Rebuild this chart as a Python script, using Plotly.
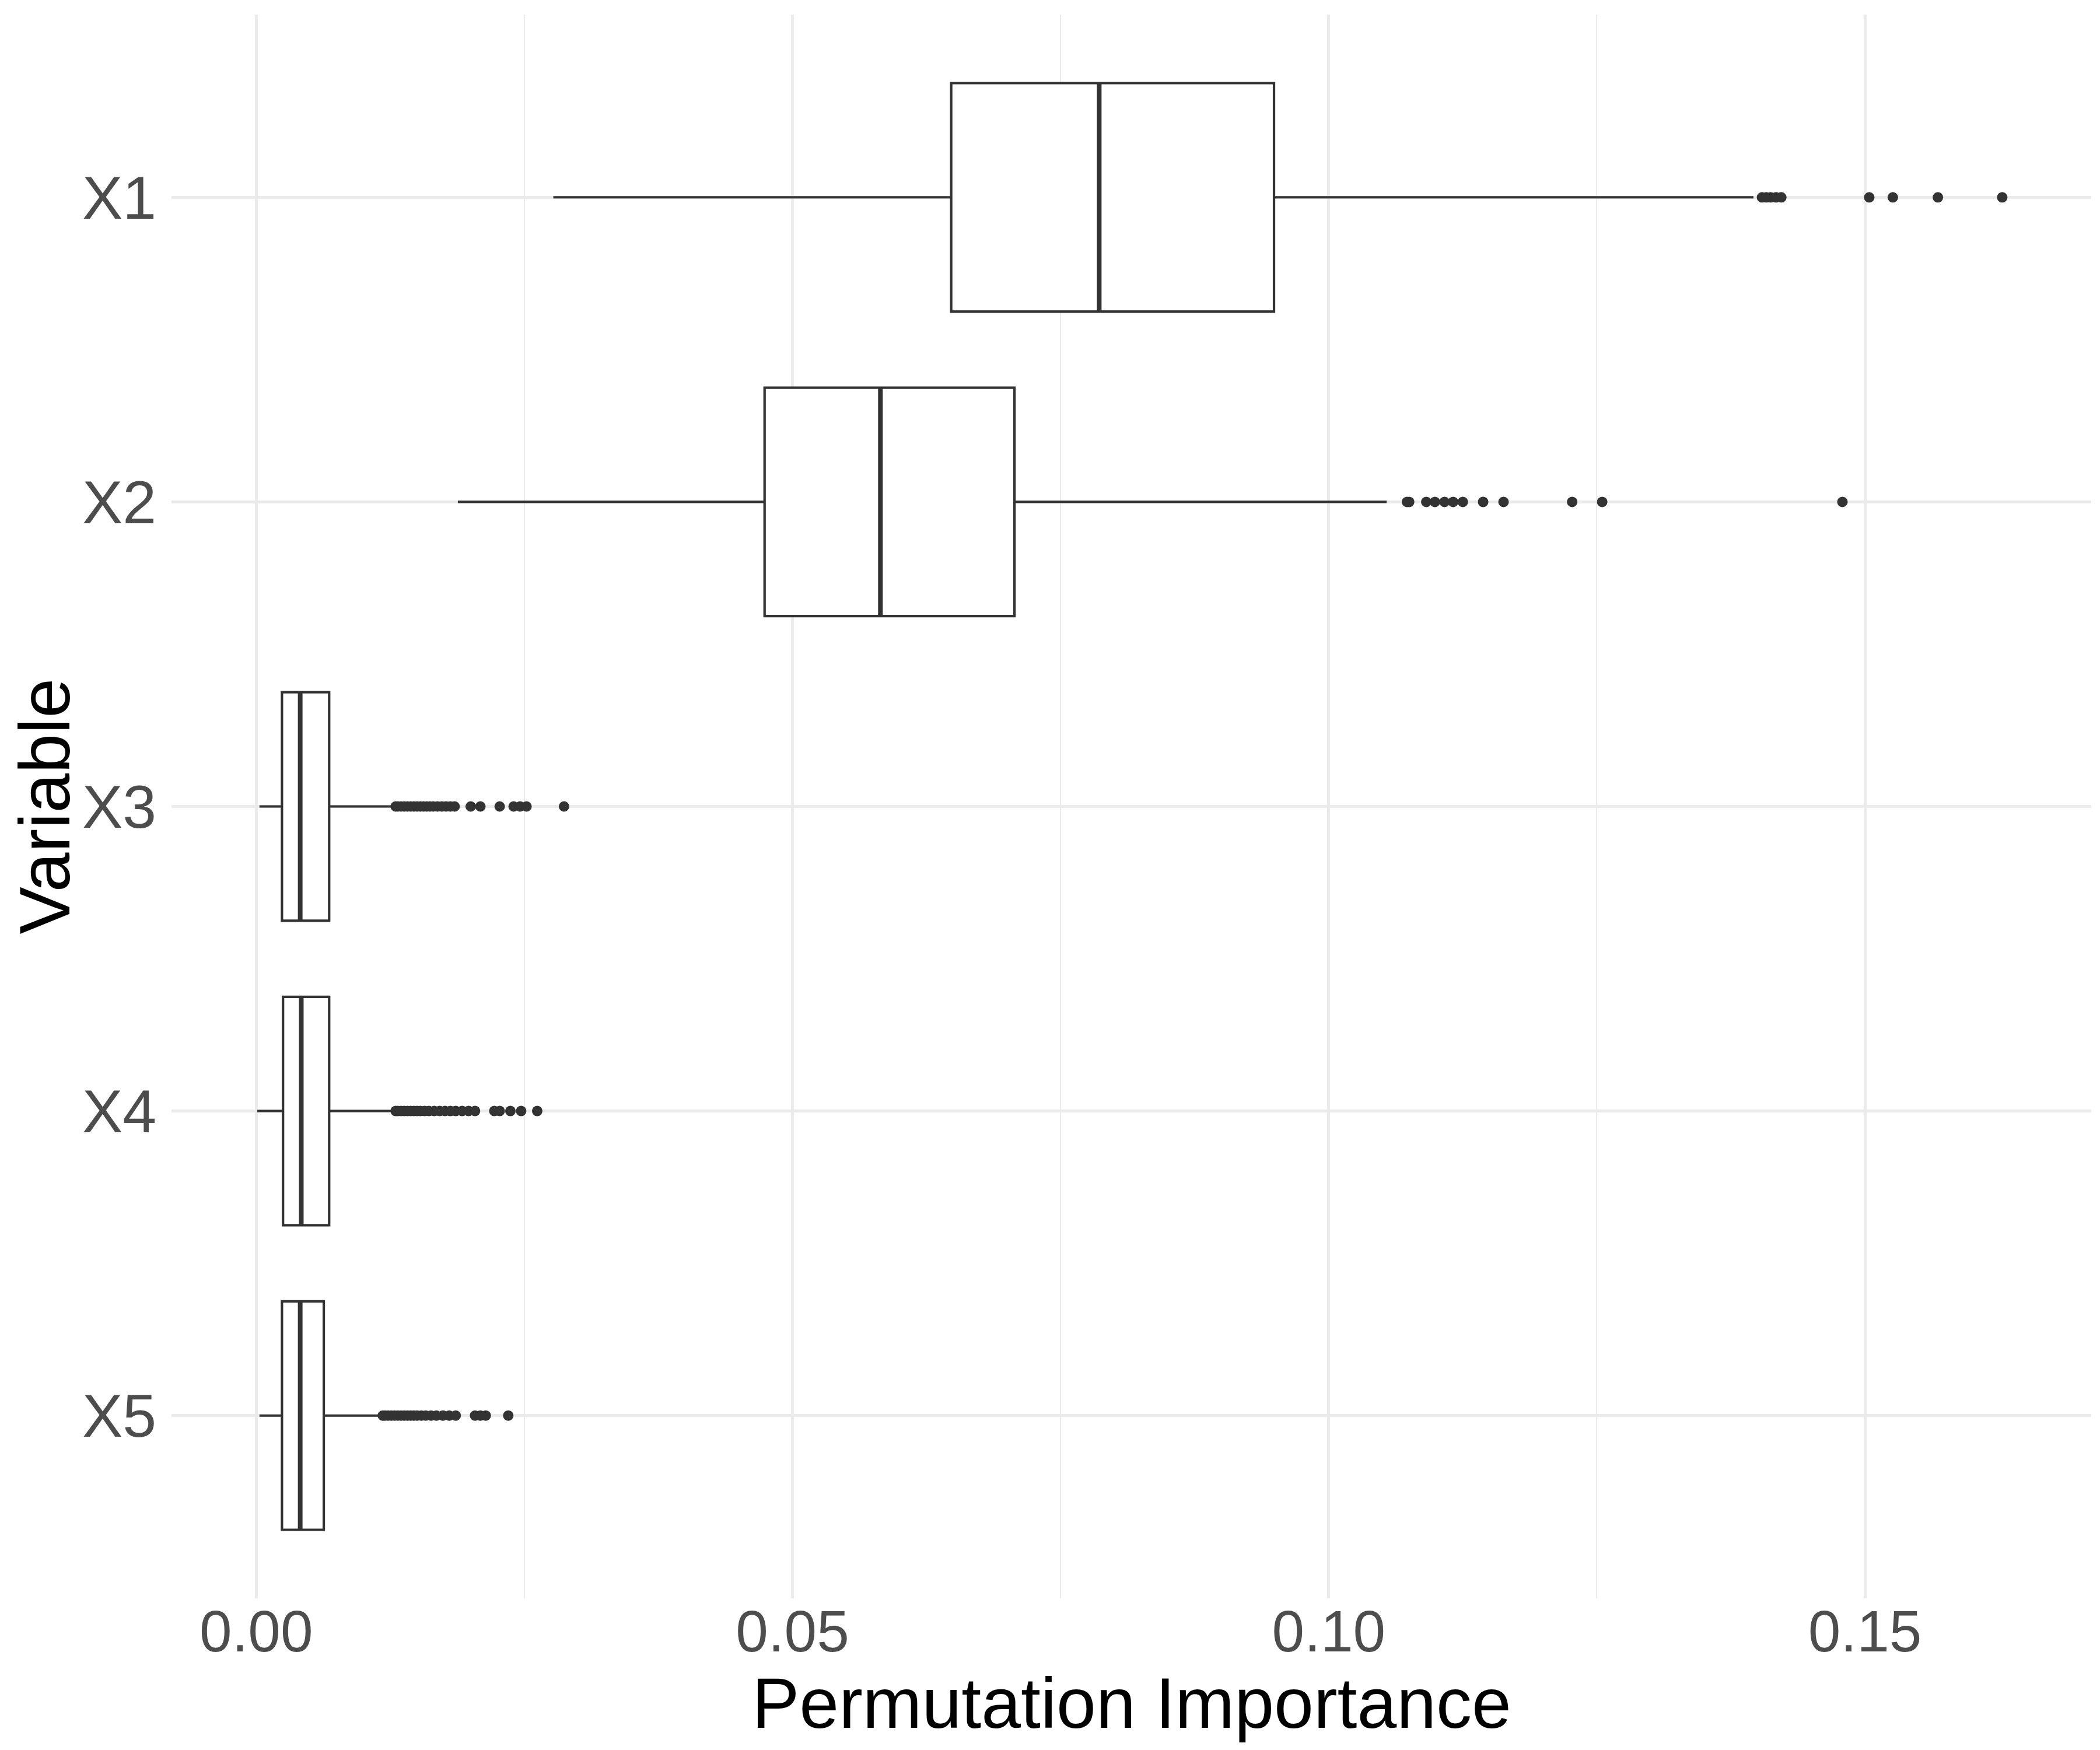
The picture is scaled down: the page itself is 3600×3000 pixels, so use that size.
import plotly.graph_objects as go

# variables, top to bottom
variables = ["X1", "X2", "X3", "X4", "X5"]

# box statistics
lower_whisker = [0.0277, 0.0188, 0.0003, 0.0001, 0.0003]
q1_vals = [0.0648, 0.0474, 0.0024, 0.0025, 0.0024]
medians = [0.0786, 0.0582, 0.0041, 0.0042, 0.0041]
q3_vals = [0.0949, 0.0707, 0.0068, 0.0068, 0.0063]
upper_whisker = [0.1396, 0.1054, 0.0128, 0.0128, 0.0115]

# outlying points per variable
outliers_x1 = [0.1404, 0.1408, 0.1412, 0.1417, 0.1422, 0.1504, 0.1526, 0.1568, 0.1628]
outliers_x2 = [0.1073, 0.1075, 0.1091, 0.1099, 0.1108, 0.1116, 0.1125, 0.1144,
               0.1163, 0.1227, 0.1255, 0.1479]
outliers_x3 = [0.0130, 0.0132, 0.0135, 0.0138, 0.0141, 0.0144, 0.0147, 0.0150,
               0.0153, 0.0156, 0.0159, 0.0162, 0.0165, 0.0169, 0.0173, 0.0177,
               0.0181, 0.0185, 0.0200, 0.0209, 0.0227, 0.0240, 0.0246, 0.0252, 0.0287]
outliers_x4 = [0.0130, 0.0132, 0.0135, 0.0138, 0.0141, 0.0144, 0.0147, 0.0150,
               0.0153, 0.0157, 0.0161, 0.0166, 0.0171, 0.0176, 0.0181, 0.0186,
               0.0192, 0.0198, 0.0204, 0.0222, 0.0227, 0.0237, 0.0247, 0.0262]
outliers_x5 = [0.0118, 0.0120, 0.0123, 0.0126, 0.0129, 0.0132, 0.0135, 0.0138,
               0.0141, 0.0144, 0.0147, 0.0150, 0.0154, 0.0158, 0.0163, 0.0168,
               0.0174, 0.0180, 0.0186, 0.0204, 0.0209, 0.0214, 0.0235]
outliers = [outliers_x1, outliers_x2, outliers_x3, outliers_x4, outliers_x5]

x_ticks = [0.00, 0.05, 0.10, 0.15]
x_tick_text = ["0.00", "0.05", "0.10", "0.15"]

box_color = "#333333"
box_width = 0.75
font_family = "Liberation Sans, Arial, sans-serif"

fig = go.Figure()

for i, var in enumerate(variables):
    fig.add_trace(go.Box(
        y=[i],
        q1=[q1_vals[i]],
        median=[medians[i]],
        q3=[q3_vals[i]],
        lowerfence=[lower_whisker[i]],
        upperfence=[upper_whisker[i]],
        orientation="h",
        width=box_width,
        whiskerwidth=0,
        fillcolor="white",
        line=dict(color=box_color, width=4.2),
        boxpoints=False,
        showlegend=False,
        hoverinfo="skip",
    ))
    # thicker median line like ggplot's fatten
    fig.add_trace(go.Scatter(
        x=[medians[i], medians[i]],
        y=[i - box_width / 2, i + box_width / 2],
        mode="lines",
        line=dict(color=box_color, width=8),
        showlegend=False,
        hoverinfo="skip",
    ))
    fig.add_trace(go.Scatter(
        x=outliers[i],
        y=[i] * len(outliers[i]),
        mode="markers",
        marker=dict(color=box_color, size=18, line=dict(width=0)),
        showlegend=False,
        hoverinfo="skip",
    ))

fig.update_layout(
    width=3600,
    height=3000,
    paper_bgcolor="white",
    plot_bgcolor="white",
    margin=dict(l=286, r=23, t=17, b=268),
    font=dict(family=font_family, color="#4D4D4D"),
    annotations=[
        dict(text="Permutation Importance", xref="paper", yref="paper",
             x=0.5, y=0, xanchor="center", yanchor="middle", yshift=-180,
             showarrow=False, font=dict(size=122, color="black")),
        dict(text="Variable", xref="paper", yref="paper",
             x=0, y=0.5, xanchor="center", yanchor="middle", xshift=-218,
             textangle=-90, showarrow=False, font=dict(size=122, color="black")),
    ],
)

fig.update_xaxes(
    range=[-0.0079, 0.1711],
    tickvals=x_ticks,
    ticktext=x_tick_text,
    tickfont=dict(size=100, color="#4D4D4D"),
    ticks="",
    ticklabelstandoff=-10,
    showgrid=True,
    gridcolor="#EBEBEB",
    gridwidth=4.5,
    minor=dict(dtick=0.025, tick0=0.025, showgrid=True, gridcolor="#EBEBEB", gridwidth=2.3),
    zeroline=False,
    showline=False,
)

fig.update_yaxes(
    range=[len(variables) - 0.4, -0.6],
    tickvals=list(range(len(variables))),
    ticktext=variables,
    tickfont=dict(size=104, color="#4D4D4D"),
    ticks="outside",
    ticklen=4,
    tickcolor="rgba(0,0,0,0)",
    showgrid=True,
    gridcolor="#EBEBEB",
    gridwidth=4.5,
    zeroline=False,
    showline=False,
)

fig.write_html("out.html")
